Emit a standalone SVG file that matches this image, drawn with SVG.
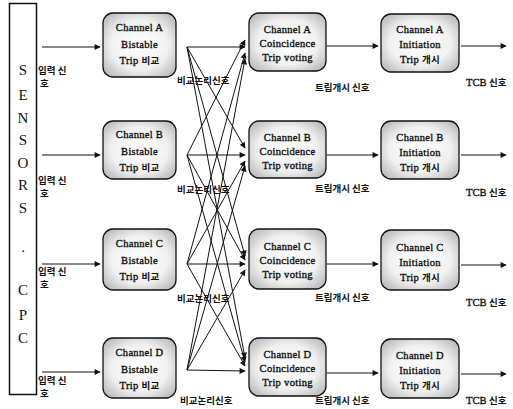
<svg xmlns="http://www.w3.org/2000/svg" width="513" height="409" viewBox="0 0 513 409">
<style>
.box{fill:url(#g);stroke:#111;stroke-width:1.3}
.bt{font-family:"Liberation Serif","Times New Roman",serif;font-weight:normal;font-size:10.5px;letter-spacing:0.3px;text-anchor:middle;fill:#111;stroke:#111;stroke-width:0.35}
.k{font-family:"Noto Sans CJK KR",sans-serif;font-weight:bold;font-size:9.5px;stroke:none}
.lb{font-family:"Noto Sans CJK KR","Liberation Sans",sans-serif;font-weight:bold;font-size:9.5px;fill:#111}
.tcb{font-family:"Liberation Serif","Times New Roman",serif;font-size:10.5px;fill:#111;stroke:#111;stroke-width:0.35}
.sn{font-family:"Liberation Serif","Times New Roman",serif;font-size:15px;text-anchor:middle;fill:#111}
.ln{stroke:#111;stroke-width:1;fill:none;marker-end:url(#ah)}
</style>
<defs>
<radialGradient id="g" cx="50%" cy="50%" r="65%">
<stop offset="0" stop-color="#ffffff"/>
<stop offset="0.6" stop-color="#f0f0f0"/>
<stop offset="1" stop-color="#b8b8b8"/>
</radialGradient>
<marker id="ah" viewBox="0 0 10 10" refX="9" refY="5" markerWidth="8" markerHeight="6" markerUnits="userSpaceOnUse" orient="auto">
<path d="M0,0 L10,5 L0,10 z" fill="#111"/>
</marker>
</defs>
<rect width="513" height="409" fill="#fff"/>
<g id="sensors">
<rect x="9.5" y="3.5" width="27" height="391" fill="#fff" stroke="#111" stroke-width="1.5"/>
<text class="sn" x="23" y="75">S</text>
<text class="sn" x="23" y="100">E</text>
<text class="sn" x="23" y="123">N</text>
<text class="sn" x="23" y="145">S</text>
<text class="sn" x="23" y="168">O</text>
<text class="sn" x="23" y="190">R</text>
<text class="sn" x="23" y="213">S</text>
<text class="sn" x="23" y="252">.</text>
<text class="sn" x="23" y="295">C</text>
<text class="sn" x="23" y="320">P</text>
<text class="sn" x="23" y="343">C</text>
</g>
<g id="connectors">
<line class="ln" x1="42" y1="47" x2="100" y2="47"/>
<line class="ln" x1="42" y1="155" x2="100" y2="155"/>
<line class="ln" x1="42" y1="264" x2="100" y2="264"/>
<line class="ln" x1="42" y1="372" x2="100" y2="372"/>
<line class="ln" x1="187" y1="47" x2="245" y2="47"/>
<line class="ln" x1="187" y1="47" x2="245" y2="148"/>
<line class="ln" x1="187" y1="47" x2="245" y2="256"/>
<line class="ln" x1="187" y1="47" x2="245" y2="358"/>
<line class="ln" x1="187" y1="155" x2="245" y2="40"/>
<line class="ln" x1="187" y1="155" x2="245" y2="155"/>
<line class="ln" x1="187" y1="155" x2="245" y2="260"/>
<line class="ln" x1="187" y1="155" x2="245" y2="362"/>
<line class="ln" x1="187" y1="264" x2="245" y2="53"/>
<line class="ln" x1="187" y1="264" x2="245" y2="161"/>
<line class="ln" x1="187" y1="264" x2="245" y2="264"/>
<line class="ln" x1="187" y1="264" x2="245" y2="366"/>
<line class="ln" x1="187" y1="370" x2="245" y2="59"/>
<line class="ln" x1="187" y1="370" x2="245" y2="166"/>
<line class="ln" x1="187" y1="370" x2="245" y2="270"/>
<line class="ln" x1="187" y1="370" x2="245" y2="371"/>
<line class="ln" x1="327" y1="46" x2="378" y2="46"/>
<line class="ln" x1="327" y1="155" x2="378" y2="155"/>
<line class="ln" x1="327" y1="264" x2="378" y2="264"/>
<line class="ln" x1="327" y1="373" x2="378" y2="373"/>
<line class="ln" x1="461" y1="46" x2="506" y2="46"/>
<line class="ln" x1="461" y1="155" x2="506" y2="155"/>
<line class="ln" x1="461" y1="265" x2="506" y2="265"/>
<line class="ln" x1="461" y1="374" x2="506" y2="374"/>
</g>
<g id="labels">
<text class="lb" x="38" y="74">입력 신</text><text class="lb" x="40" y="87">호</text>
<text class="lb" x="38" y="184">입력 신</text><text class="lb" x="40" y="197">호</text>
<text class="lb" x="38" y="275">입력 신</text><text class="lb" x="40" y="288">호</text>
<text class="lb" x="38" y="384">입력 신</text><text class="lb" x="40" y="397">호</text>
<text class="lb" x="177" y="84">비교논리신호</text>
<text class="lb" x="177" y="193">비교논리신호</text>
<text class="lb" x="177" y="302">비교논리신호</text>
<text class="lb" x="180" y="404">비교논리신호</text>
<text class="lb" x="315" y="91">트립개시 신호</text>
<text class="lb" x="315" y="192">트립개시 신호</text>
<text class="lb" x="315" y="301">트립개시 신호</text>
<text class="lb" x="315" y="404">트립개시 신호</text>
<text class="tcb" x="466" y="86">TCB <tspan class="k">신호</tspan></text>
<text class="tcb" x="466" y="196">TCB <tspan class="k">신호</tspan></text>
<text class="tcb" x="466" y="306">TCB <tspan class="k">신호</tspan></text>
<text class="tcb" x="466" y="404">TCB <tspan class="k">신호</tspan></text>
</g>
<g id="bistable-a"><rect class="box" x="103" y="13" width="73" height="64" rx="10"/>
<text class="bt" x="139.5" y="31">Channel A</text><text class="bt" x="139.5" y="48">Bistable</text><text class="bt" x="139.5" y="64">Trip <tspan class="k">비교</tspan></text></g>
<g id="bistable-b"><rect class="box" x="103" y="121" width="73" height="58" rx="10"/>
<text class="bt" x="139.5" y="138">Channel B</text><text class="bt" x="139.5" y="155">Bistable</text><text class="bt" x="139.5" y="171">Trip <tspan class="k">비교</tspan></text></g>
<g id="bistable-c"><rect class="box" x="103" y="229" width="73" height="61" rx="10"/>
<text class="bt" x="139.5" y="247">Channel C</text><text class="bt" x="139.5" y="264">Bistable</text><text class="bt" x="139.5" y="280">Trip <tspan class="k">비교</tspan></text></g>
<g id="bistable-d"><rect class="box" x="103" y="338" width="73" height="60" rx="10"/>
<text class="bt" x="139.5" y="356">Channel D</text><text class="bt" x="139.5" y="373">Bistable</text><text class="bt" x="139.5" y="389">Trip <tspan class="k">비교</tspan></text></g>
<g id="coincidence-a"><rect class="box" x="249" y="13" width="77" height="58" rx="10"/>
<text class="bt" x="287.5" y="33">Channel A</text><text class="bt" x="287.5" y="47">Coincidence</text><text class="bt" x="287.5" y="61">Trip voting</text></g>
<g id="coincidence-b"><rect class="box" x="249" y="121" width="77" height="57" rx="10"/>
<text class="bt" x="287.5" y="141">Channel B</text><text class="bt" x="287.5" y="155">Coincidence</text><text class="bt" x="287.5" y="169">Trip voting</text></g>
<g id="coincidence-c"><rect class="box" x="249" y="229" width="77" height="60" rx="10"/>
<text class="bt" x="287.5" y="250">Channel C</text><text class="bt" x="287.5" y="264">Coincidence</text><text class="bt" x="287.5" y="278">Trip voting</text></g>
<g id="coincidence-d"><rect class="box" x="249" y="338" width="77" height="58" rx="10"/>
<text class="bt" x="287.5" y="358">Channel D</text><text class="bt" x="287.5" y="372">Coincidence</text><text class="bt" x="287.5" y="386">Trip voting</text></g>
<g id="initiation-a"><rect class="box" x="381" y="14" width="78" height="58" rx="10"/>
<text class="bt" x="420" y="33">Channel A</text><text class="bt" x="420" y="48">Initiation</text><text class="bt" x="420" y="63">Trip <tspan class="k">개시</tspan></text></g>
<g id="initiation-b"><rect class="box" x="381" y="121" width="78" height="58" rx="10"/>
<text class="bt" x="420" y="141">Channel B</text><text class="bt" x="420" y="156">Initiation</text><text class="bt" x="420" y="171">Trip <tspan class="k">개시</tspan></text></g>
<g id="initiation-c"><rect class="box" x="381" y="230" width="78" height="60" rx="10"/>
<text class="bt" x="420" y="251">Channel C</text><text class="bt" x="420" y="266">Initiation</text><text class="bt" x="420" y="281">Trip <tspan class="k">개시</tspan></text></g>
<g id="initiation-d"><rect class="box" x="381" y="339" width="78" height="59" rx="10"/>
<text class="bt" x="420" y="359">Channel D</text><text class="bt" x="420" y="374">Initiation</text><text class="bt" x="420" y="389">Trip <tspan class="k">개시</tspan></text></g>
</svg>
